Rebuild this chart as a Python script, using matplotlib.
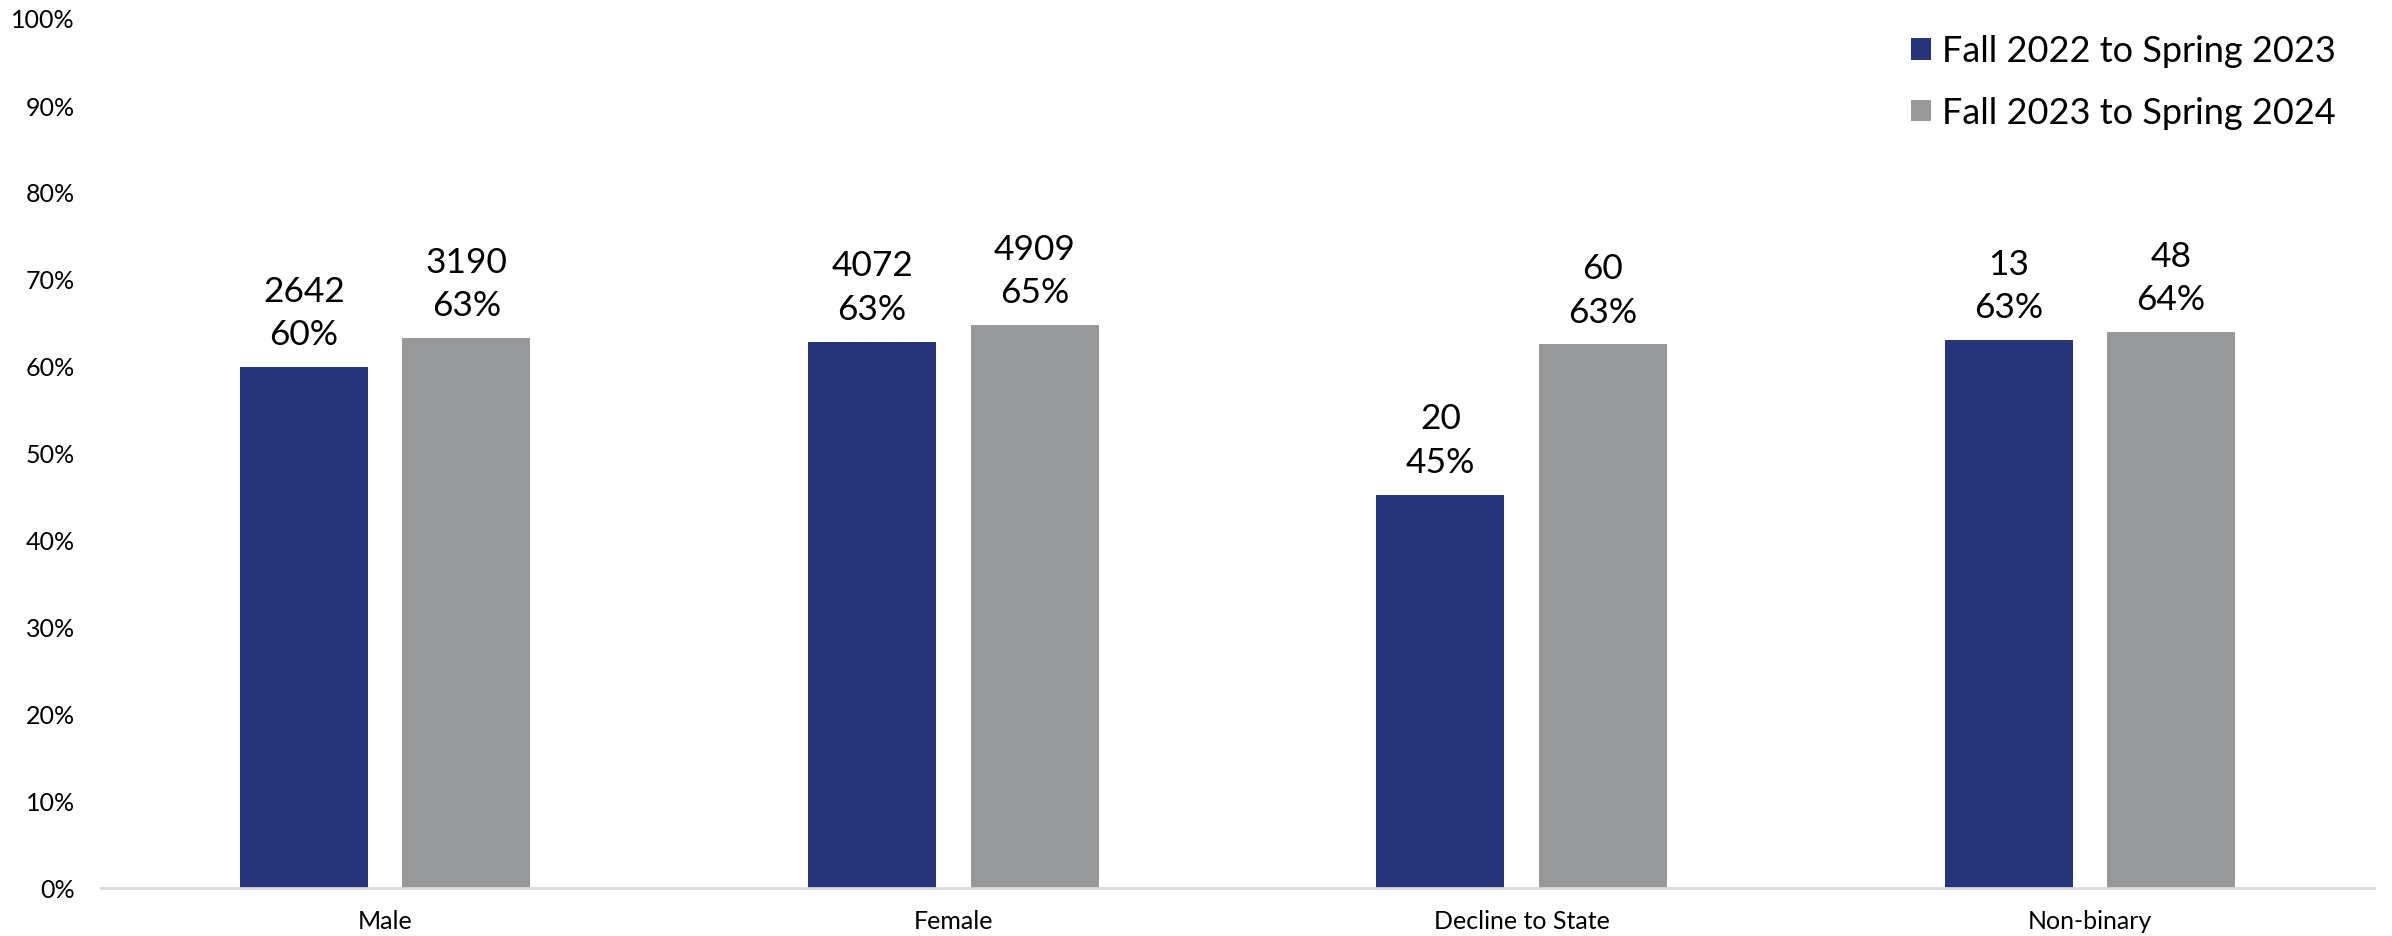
import matplotlib
matplotlib.use("Agg")
import matplotlib.pyplot as plt
import numpy as np

categories = ["Male", "Female", "Decline to State", "Non-binary"]
series_names = ["Fall 2022 to Spring 2023", "Fall 2023 to Spring 2024"]
pct_2223 = [59.9, 62.8, 45.2, 63.0]
pct_2324 = [63.2, 64.7, 62.5, 63.9]
n_2223 = [2642, 4072, 20, 13]
n_2324 = [3190, 4909, 60, 48]
pct_lbl_2223 = [60, 63, 45, 63]
pct_lbl_2324 = [63, 65, 63, 64]
yticks = list(range(0, 101, 10))

colors = ["#263479", "#97989A"]

plt.rcParams['font.family'] = ['Lato', 'DejaVu Sans']

W, H = 2392, 937
fig = plt.figure(figsize=(W / 100, H / 100), dpi=100)
ax = fig.add_axes([101 / W, (H - 889) / H, (2374 - 101) / W, (889 - 19) / H])

x = np.arange(len(categories))
bw = 0.225
off = 0.143

b1 = ax.bar(x - off, pct_2223, bw, color=colors[0], label=series_names[0], zorder=2)
b2 = ax.bar(x + off, pct_2324, bw, color=colors[1], label=series_names[1], zorder=2)

for bars, ns, ps in [(b1, n_2223, pct_lbl_2223), (b2, n_2324, pct_lbl_2324)]:
    for rect, n, p in zip(bars, ns, ps):
        ax.annotate(f"{n}\n{p}%", (rect.get_x() + rect.get_width() / 2, rect.get_height()),
                    xytext=(0, 12), textcoords="offset points", ha="center", va="bottom",
                    fontsize=25.5, linespacing=1.45, color="black")

ax.set_xlim(-0.5, len(categories) - 0.5)
ax.set_ylim(0, 100)
ax.set_yticks(yticks)
ax.set_yticklabels([f"{t}%" for t in yticks])
ax.set_xticks(x)
ax.set_xticklabels(categories)
ax.tick_params(axis="y", length=0, pad=19, labelsize=18)
ax.tick_params(axis="x", length=0, pad=15, labelsize=18)
for s in ["top", "right", "left"]:
    ax.spines[s].set_visible(False)
ax.spines["bottom"].set_color("#D9D9D9")
ax.spines["bottom"].set_linewidth(2)

leg = fig.legend(handles=[b1, b2], labels=series_names, loc="upper left",
                 bbox_to_anchor=(1897 / W, 1 - 21 / H), frameon=False, fontsize=26,
                 handlelength=0.55, handleheight=0.55, handletextpad=0.3,
                 labelspacing=0.8, borderaxespad=0)

fig.savefig("out.png", dpi=100)
